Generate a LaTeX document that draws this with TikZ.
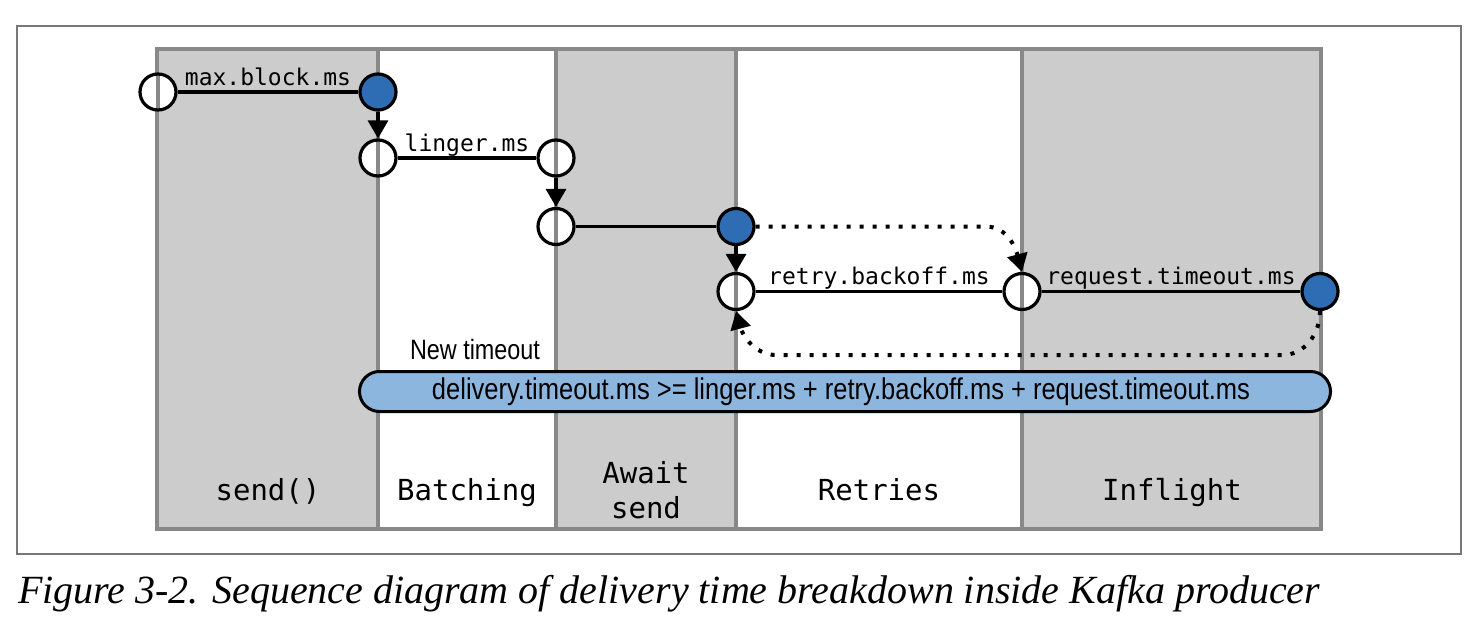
\documentclass[tikz,border=0pt]{standalone}
\usepackage{fontspec}
\usepackage{graphicx}
\setmainfont{Liberation Serif}
\setmonofont{DejaVu Sans Mono}
\newfontfamily\condsans{Liberation Sans}
\usetikzlibrary{arrows.meta,positioning}
\definecolor{phasegray}{HTML}{CCCCCC}
\definecolor{edgegray}{HTML}{888888}
\definecolor{framegray}{HTML}{777777}
\definecolor{stateblue}{HTML}{2E6DB4}
\definecolor{barblue}{HTML}{8DB6DE}
\tikzstyle{phase} = [draw=edgegray, line width=4pt]
\tikzstyle{state} = [circle, draw=black, line width=3.2pt, fill=white, minimum size=36pt, inner sep=0pt,
  path picture={\draw[edgegray, line width=4pt] (path picture bounding box.north) -- (path picture bounding box.south);}]
\tikzstyle{done} = [circle, draw=black, line width=3.2pt, fill=stateblue, minimum size=36pt, inner sep=0pt]
\tikzstyle{wait} = [line width=3.2pt]
\tikzstyle{arrow} = [line width=3.2pt, -{Triangle[length=18pt,width=20pt]}]
\tikzstyle{retry} = [line width=4pt, dash pattern=on 4pt off 9pt, -{Triangle[length=18pt,width=20pt]}]
\tikzstyle{param} = [font=\fontsize{23}{28}\selectfont\ttfamily, anchor=base, inner sep=0pt, yshift=7pt]
\tikzstyle{phasename} = [font=\fontsize{29}{35}\selectfont\ttfamily, align=center]
\tikzstyle{budget} = [draw=black, line width=3pt, fill=barblue, rounded corners=20pt, minimum width=971pt, minimum height=40pt]

\begin{document}
\begin{tikzpicture}[x=1pt, y=1pt]
  \useasboundingbox (0,0) rectangle (1482,-634);
  \draw[framegray, line width=2pt] (17,-26) rectangle (1461,-554);

  % phases
  \fill[phasegray] (157,-49) rectangle (378,-529);
  \fill[phasegray] (556,-49) rectangle (736,-529);
  \fill[phasegray] (1022,-49) rectangle (1321,-529);
  \draw[phase] (157,-49) rectangle (1321,-529);
  \foreach \x in {378,556,736,1022}
    \draw[phase] (\x,-49) -- (\x,-529);

  \node[phasename, anchor=base] (send) at (268,-500) {send()};
  \node[phasename, anchor=base] (batch) at (467,-500) {Batching};
  \node[phasename] (await) at (646,-490) {Await\\send};
  \node[phasename, anchor=base] (retries) at (879,-500) {Retries};
  \node[phasename, anchor=base] (inflight) at (1172,-500) {Inflight};

  % states
  \node[state] (c1) at (158,-92) {};
  \node[done] (c2) at (378,-92) {};
  \node[state] (c3) at (378,-158) {};
  \node[state] (c4) at (556,-158) {};
  \node[state] (c5) at (556,-226.5) {};
  \node[done] (c6) at (736,-226.5) {};
  \node[state] (c7) at (736,-291.5) {};
  \node[state] (c8) at (1022,-291.5) {};
  \node[done] (c9) at (1320,-291.5) {};

  \draw[wait] (c1) -- node[param]{max.block.ms} (c2);
  \draw[arrow] (c2) -- (c3);
  \draw[wait] (c3) -- node[param]{linger.ms} (c4);
  \draw[arrow] (c4) -- (c5);
  \draw[wait] (c5) -- (c6);
  \draw[arrow] (c6) -- (c7);
  \draw[wait] (c7) -- node[param]{retry.backoff.ms} (c8);
  \draw[wait] (c8) -- node[param]{request.timeout.ms} (c9);

  % retry loop
  \draw[retry] (c6.east) -- ++(230,0) to[out=0,in=105] (c8.north);
  \draw[retry] (c9.south) to[out=-90,in=0] ++(-38,-44) -- ++(-505,0) to[out=180,in=-75] (c7.south);

  \node[font=\condsans\fontsize{28}{34}\selectfont] (newt) at (475,-349) {\resizebox{130pt}{\height}{New timeout}};
  \node[budget] (total) at (845,-391.5) {};
  \node[font=\condsans\fontsize{30}{36}\selectfont] (formula) at (841,-391.5)
    {\resizebox{818pt}{\height}{delivery.timeout.ms >= linger.ms + retry.backoff.ms + request.timeout.ms}};

  \node[anchor=base west, inner sep=0pt, font=\fontsize{40}{48}\selectfont\itshape] (caption) at (18,-603)
    {Figure 3-2. Sequence diagram of delivery time breakdown inside Kafka producer};
\end{tikzpicture}
\end{document}
